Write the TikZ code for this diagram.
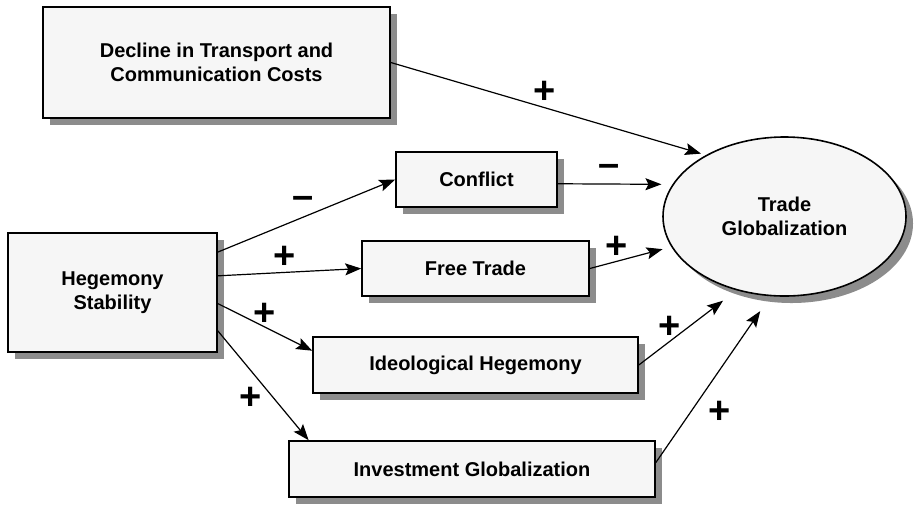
\documentclass[tikz,border=0pt]{standalone}
\usepackage{fontspec}
\setmainfont{Liberation Sans}
\definecolor{boxfill}{RGB}{246, 246, 246}
\definecolor{shadowgray}{RGB}{140, 140, 140}
\usepackage{tikz}
\usetikzlibrary{shapes, arrows.meta, positioning, shadows}

\tikzset{
  factor/.style={draw, line width=0.8pt, fill=boxfill, align=center, font=\bfseries, inner sep=0pt,
    drop shadow={shadow xshift=3.5pt, shadow yshift=-3.5pt, fill=shadowgray, opacity=1}},
  effect/.style={-{Stealth[length=8pt, width=6pt, inset=1.5pt]}, line width=0.6pt},
  sign/.style={font=\fontsize{19}{19}\selectfont\bfseries}
}

\begin{document}
\begin{tikzpicture}[x=0.5pt, y=-0.5pt]
  \useasboundingbox (0, 0) rectangle (914, 505);

  % === Causes ===
  \node[factor, minimum width=173.5pt, minimum height=55.5pt] (decline) at (216.5, 62.5) {Decline in Transport and\\Communication Costs};
  \node[factor, minimum width=104.5pt, minimum height=59.5pt] (hegemony) at (112.5, 292.5) {Hegemony\\Stability};

  % === Intermediate factors ===
  \node[factor, minimum width=80.5pt, minimum height=27.5pt] (conflict) at (476.5, 179.5) {Conflict};
  \node[factor, minimum width=113.5pt, minimum height=27.5pt] (freetrade) at (475.5, 268.5) {Free Trade};
  \node[factor, minimum width=162.5pt, minimum height=28pt] (ideology) at (475.5, 365) {Ideological Hegemony};
  \node[factor, minimum width=183pt, minimum height=28pt] (investment) at (472, 469) {Investment Globalization};

  % === Outcome ===
  \node[factor, ellipse, minimum width=121.5pt, minimum height=79.5pt] (tradeglob) at (784.5, 216.5) {Trade\\Globalization};

  % Arrows
  \draw[effect, shorten >=2.5pt] (decline.east) -- (tradeglob.142);
  \draw[effect] (hegemony.21) -- (conflict.west);
  \draw[effect] (hegemony.9) -- (freetrade.west);
  \draw[effect] (hegemony.-6) -- (ideology.175);
  \draw[effect] (hegemony.-20) -- (investment.170);
  \draw[effect, shorten >=5.5pt] (conflict.-3) -- (tradeglob.164);
  \draw[effect, shorten >=4.5pt] (freetrade.east) -- (tradeglob.195);
  \draw[effect, shorten >=8.5pt] (ideology.east) -- (tradeglob.237);
  \draw[effect, shorten >=9pt] (investment.2) -- (tradeglob.260);

  % Signs
  \node[sign] (s-decline) at (545, 92) {+};
  \node[sign] (s-conflict) at (303, 202) {--};
  \node[sign] (s-freetrade) at (285, 257) {+};
  \node[sign] (s-ideology) at (265, 314) {+};
  \node[sign] (s-investment) at (251, 398) {+};
  \node[sign] (s-conflict-tg) at (609, 170) {--};
  \node[sign] (s-freetrade-tg) at (617, 247) {+};
  \node[sign] (s-ideology-tg) at (670, 327) {+};
  \node[sign] (s-investment-tg) at (720, 412) {+};
\end{tikzpicture}
\end{document}
